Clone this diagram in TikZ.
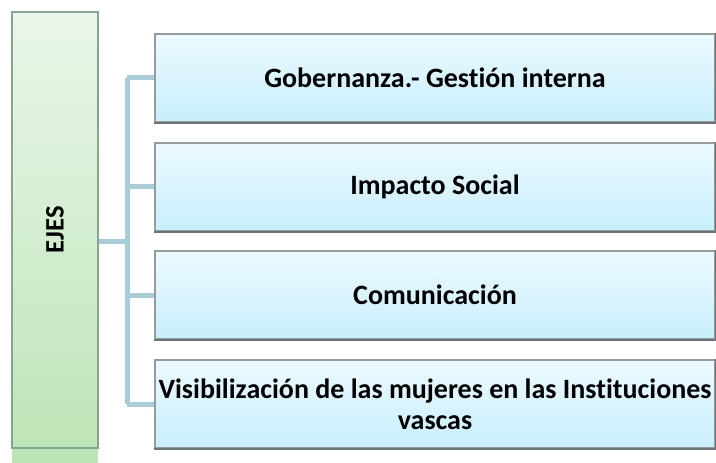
\documentclass[tikz,border=0pt]{standalone}
\usepackage{fontspec}
\setmainfont{Carlito}[Ligatures=NoCommon]
\definecolor{verdeA}{HTML}{EAF6EA}
\definecolor{verdeB}{HTML}{BCE4B5}
\definecolor{azulA}{HTML}{ECFAFF}
\definecolor{azulB}{HTML}{C8EEFC}
\definecolor{borde}{HTML}{959B9E}
\definecolor{sombra}{HTML}{6E7476}
\definecolor{linea}{HTML}{A8CDD9}
\begin{document}
\begin{tikzpicture}[x=0.75pt,y=-0.75pt,
	eje/.style={draw=borde,line width=0.9pt,top color=azulA,bottom color=azulB,minimum width=420pt,minimum height=66pt,inner sep=0pt,align=center,font=\bfseries\fontsize{21}{23.5}\selectfont},
	rama/.style={draw=linea,line width=3.75pt}]
	\useasboundingbox (0,0) rectangle (716,463);
	\fill[top color=verdeA,bottom color=verdeB] (12,12) rectangle (98,463);
	\node[draw=borde!90!green,line width=0.9pt,minimum width=64.5pt,minimum height=327pt,inner sep=0pt] (ejes) at (55,230)
		{\rotatebox{90}{\bfseries\fontsize{20}{22}\selectfont EJES}};
	\foreach \n/\y/\t in {1/78/{Gobernanza.- Gestión interna},2/187/{Impacto Social},3/295/{Comunicación},4/404/{Visibilización de las mujeres en las Instituciones\\vascas}}{
		\node[eje] (b\n) at (435,\y) {\t};
		\draw[sombra,line width=1.4pt] (b\n.south west)--(b\n.south east)--(b\n.north east);
	}
	\coordinate (tronco) at (127,241);
	\draw[rama] (ejes.east |- tronco)--(tronco);
	\draw[rama] (tronco |- b1.west)--(tronco |- b4.west);
	\foreach \n in {1,...,4}{
		\draw[rama] (tronco |- b\n.west)--(b\n.west);
	}
\end{tikzpicture}
\end{document}
